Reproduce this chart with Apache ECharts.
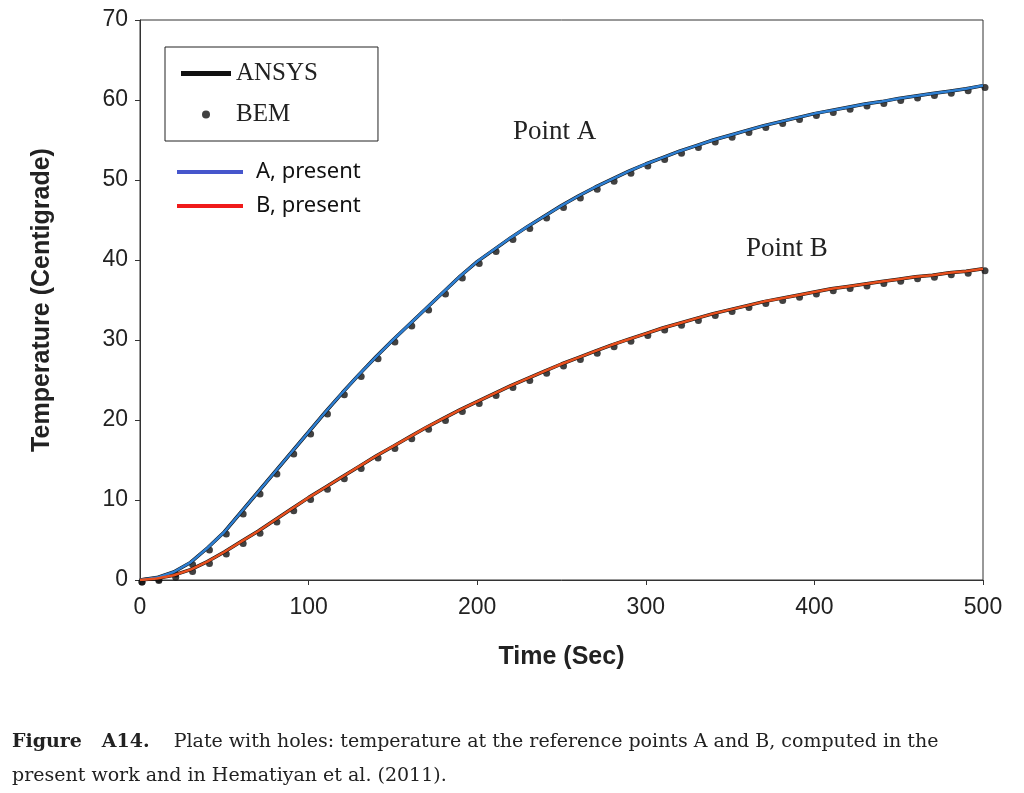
<!DOCTYPE html>
<html>
<head>
<meta charset="utf-8">
<script src="https://cdn.jsdelivr.net/npm/echarts@6/dist/echarts.min.js"></script>
<style>
  body{margin:0;background:#fff;}
  #main{width:1024px;height:793px;}
</style>
</head>
<body>
<div id="main"></div>
<script>
// time in seconds, every 10 s
var times = [];
for (var i = 0; i <= 50; i++) times.push(i * 10);

var pointA = [0,0.3,1.0,2.2,4.0,6.0,8.5,11,13.5,16,18.5,21,23.4,25.7,27.9,30,32,34,36,38,39.8,
  41.3,42.8,44.2,45.5,46.8,48,49.1,50.1,51.1,52,52.8,53.6,54.3,55,55.6,56.2,56.8,57.3,57.8,58.3,
  58.7,59.1,59.5,59.8,60.2,60.5,60.8,61.1,61.4,61.8];
var pointB = [0,0.2,0.6,1.3,2.3,3.5,4.8,6.1,7.5,8.9,10.3,11.6,12.9,14.2,15.5,16.7,17.9,19.1,20.2,21.3,22.3,
  23.3,24.3,25.2,26.1,27,27.8,28.6,29.4,30.1,30.8,31.5,32.1,32.7,33.3,33.8,34.3,34.8,35.2,35.6,36,
  36.4,36.7,37,37.3,37.6,37.9,38.1,38.4,38.6,38.9];

function pairs(vals){ return times.map(function(t, i){ return [t, vals[i]]; }); }

var myChart = echarts.init(document.getElementById('main'));
var axisFont = {fontFamily:'Liberation Sans', fontSize:23, color:'#222'};

var option = {
  animation: false,
  grid: {left:140, right:41, top:20, bottom:213, show:true, borderColor:'#333', borderWidth:1},
  xAxis: {
    type:'value', min:0, max:500, interval:100,
    name:'Time (Sec)', nameLocation:'middle', nameGap:65,
    nameTextStyle:{fontFamily:'Liberation Sans', fontSize:25, fontWeight:'bold', color:'#222'},
    axisLine:{lineStyle:{color:'#333'}}, axisTick:{length:5, lineStyle:{color:'#333'}},
    axisLabel:Object.assign({margin:16}, axisFont), splitLine:{show:false}
  },
  yAxis: {
    type:'value', min:0, max:70, interval:10,
    name:'Temperature (Centigrade)', nameLocation:'middle', nameGap:85,
    nameTextStyle:{fontFamily:'Liberation Sans', fontSize:25, fontWeight:'bold', color:'#222'},
    axisLine:{show:true, lineStyle:{color:'#333'}}, axisTick:{show:true, length:5, lineStyle:{color:'#333'}},
    axisLabel:Object.assign({margin:12}, axisFont), splitLine:{show:false}
  },
  legend: [
    {data:[{name:'ANSYS', icon:'path://M0,0H10V1H0Z'}, {name:'BEM', icon:'circle'}],
     orient:'vertical', left:165, top:47, width:195, padding:[14,60,14,16], itemGap:16,
     borderColor:'#222', borderWidth:1, itemWidth:50, itemHeight:8,
     textStyle:{fontFamily:'Liberation Serif', fontSize:25, color:'#222'}},
    {data:['A, present','B, present'], orient:'vertical', left:172, top:156, itemGap:12,
     itemWidth:66, itemHeight:4, icon:'rect',
     textStyle:{fontFamily:'Noto Sans', fontSize:22, color:'#111', padding:[0,0,0,8]}}
  ],
  series: [
    {name:'ANSYS', type:'line', data:pairs(pointA), showSymbol:false, lineStyle:{color:'#111', width:3.5}, itemStyle:{color:'#111'}},
    {name:'ANSYS', type:'line', data:pairs(pointB), showSymbol:false, lineStyle:{color:'#111', width:3.5}, itemStyle:{color:'#111'}},
    {name:'BEM', type:'scatter', data:pairs(pointA), symbolSize:7, symbolOffset:[2,2], itemStyle:{color:'#111'}},
    {name:'BEM', type:'scatter', data:pairs(pointB), symbolSize:7, symbolOffset:[2,2], itemStyle:{color:'#111'}},
    {name:'A, present', type:'line', data:pairs(pointA), showSymbol:false, z:5, lineStyle:{color:'#2e7fd2', width:2.5}, itemStyle:{color:'#4656cc'}},
    {name:'B, present', type:'line', data:pairs(pointB), showSymbol:false, z:5, lineStyle:{color:'#e8501e', width:2.5}, itemStyle:{color:'#f01a1a'}}
  ],
  graphic: [
    {type:'text', left:513, top:118, style:{text:'Point A', font:'27px "Liberation Serif"', fill:'#222'}},
    {type:'text', left:746, top:235, style:{text:'Point B', font:'27px "Liberation Serif"', fill:'#222'}},
    {type:'text', left:12, top:725, style:{
      text:'{b|Figure   A14.}    Plate with holes: temperature at the reference points A and B, computed in the\npresent work and in Hematiyan et al. (2011).',
      font:'19px "DejaVu Serif"', fill:'#222', lineHeight:34,
      rich:{b:{font:'bold 19px "DejaVu Serif"', fill:'#222'}}}}
  ]
};
myChart.setOption(option);
</script>
</body>
</html>
